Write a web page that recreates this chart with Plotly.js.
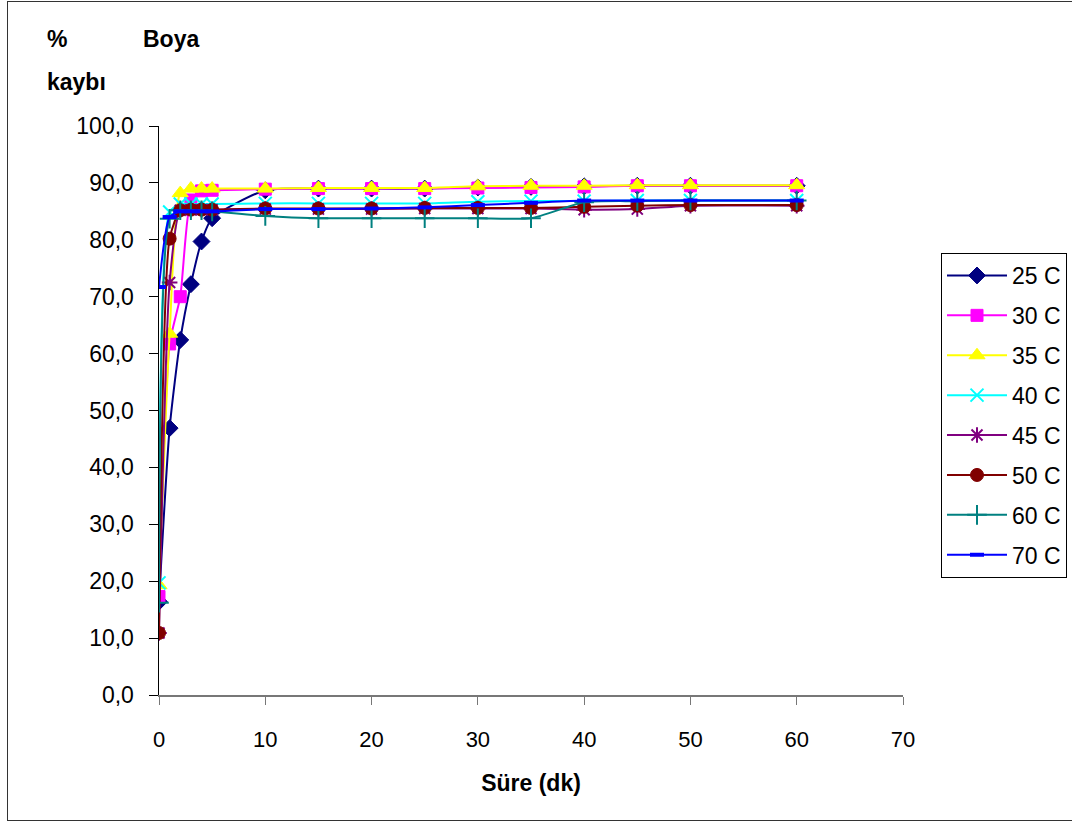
<!DOCTYPE html>
<html><head><meta charset="utf-8">
<script src="https://cdn.plot.ly/plotly-3.0.1.min.js"></script>
<style>
html,body{margin:0;padding:0;background:#fff;overflow:hidden;}
#frame{position:absolute;left:7px;top:1px;width:1100px;height:820px;border:1.5px solid #333;box-sizing:border-box;}
#chart{position:absolute;left:0;top:0;width:1072px;height:822px;}
</style></head>
<body>
<div id="frame"></div>
<div id="chart"></div>
<script>
const minutes = [0,1,2,3,4,5,10,15,20,25,30,35,40,45,50,60];
const seriesNames = ["25 C","30 C","35 C","40 C","45 C","50 C","60 C","70 C"];
const c25 = [16.4,46.9,62.4,72.2,79.7,83.8,88.7,89.0,89.0,89.0,89.2,89.3,89.4,89.5,89.5,89.5];
const c30 = [17.3,61.7,70.0,87.0,88.6,88.7,88.9,89.0,89.0,89.0,89.1,89.2,89.3,89.5,89.5,89.5];
const c35 = [19.3,63.5,88.2,89.0,89.0,89.0,89.0,89.1,89.1,89.1,89.4,89.5,89.5,89.6,89.6,89.6];
const c40 = [19.7,84.9,86.3,86.3,86.3,86.3,86.4,86.4,86.4,86.4,86.7,86.8,86.8,86.9,86.9,86.9];
const c45 = [10.9,72.5,85.2,85.3,85.3,85.3,85.4,85.4,85.4,85.5,85.5,85.5,85.3,85.4,86.0,86.0];
const c50 = [10.9,80.2,85.2,85.3,85.3,85.3,85.5,85.5,85.5,85.6,85.6,85.6,85.8,86.0,86.1,86.1];
const c60 = [16.2,83.7,85.2,85.2,85.2,85.0,84.2,83.8,83.8,83.8,83.8,83.8,86.6,86.8,86.9,86.9];
const c70 = [71.7,84.0,85.0,85.0,85.0,85.0,85.4,85.4,85.5,85.7,86.1,86.5,86.9,86.9,86.9,86.9];
const yTicks = [0,10,20,30,40,50,60,70,80,90,100];
const xTicks = [0,10,20,30,40,50,60,70];

const allY = [c25,c30,c35,c40,c45,c50,c60,c70];
const colors = ["#000080","#FF00FF","#FFFF00","#00FFFF","#800080","#800000","#008080","#0000FF"];
const symbols = ["diamond","square","triangle-up","x-thin-open","asterisk-open","circle","cross-thin-open","line-ew-open"];
const sizes = [13,12,14,13,13,13,14,10];
const lw = [1,1,1,2,2,1,2,4];

const traces = allY.map((y,i)=>({
  x: minutes, y: y, name: seriesNames[i], type:'scatter', mode:'lines+markers',
  legendgroup:'g'+i,
  line:{color:colors[i], width:2, shape:'spline', smoothing:0.6},
  marker:{symbol:symbols[i], size:sizes[i], color:colors[i], line:{color:colors[i], width:lw[i]}}
}));

const py = p => (695 - p)/569;
const px = p => (p - 159)/744;

const layout = {
  width:1072, height:822,
  paper_bgcolor:'rgba(0,0,0,0)', plot_bgcolor:'rgba(0,0,0,0)',
  margin:{l:159, r:169, t:126, b:127, autoexpand:false},
  separators:',.',
  font:{family:'Liberation Sans, Arial, sans-serif', size:23, color:'#000'},
  xaxis:{range:[0,70], tickvals:xTicks, ticks:'outside', ticklen:8, tickcolor:'#777',
    showline:true, linecolor:'#777', linewidth:1.5, showgrid:false, zeroline:false,
    tickfont:{size:22}, ticklabelstandoff:16, fixedrange:true, automargin:false,
    title:{text:'<b>Süre (dk)</b>', font:{size:23}, standoff:24}},
  yaxis:{range:[0,100], tickvals:yTicks, tickformat:'.1f', ticks:'outside', ticklen:9, tickcolor:'#000',
    showline:true, linecolor:'#000', linewidth:1.5, showgrid:false, zeroline:false,
    tickfont:{size:23}, ticklabelstandoff:10, fixedrange:true, automargin:false},
  showlegend:true,
  legend:{xref:'container', yref:'container', x:941/1072, xanchor:'left', y:1-253/822, yanchor:'top',
    bordercolor:'#000', borderwidth:1,
    bgcolor:'#fff', font:{size:23}, tracegroupgap:7, itemwidth:60},
  annotations:[
    {text:'<b>%</b>', xref:'paper', yref:'paper', x:px(45), y:py(39), yanchor:'middle', xanchor:'left', showarrow:false, font:{size:23}},
    {text:'<b>Boya</b>', xref:'paper', yref:'paper', x:px(141), y:py(39), yanchor:'middle', xanchor:'left', showarrow:false, font:{size:23}},
    {text:'<b>kaybı</b>', xref:'paper', yref:'paper', x:px(45), y:py(82), yanchor:'middle', xanchor:'left', showarrow:false, font:{size:23}}
  ]
};

Plotly.newPlot('chart', traces, layout, {displayModeBar:false, staticPlot:true});
</script>
</body></html>
